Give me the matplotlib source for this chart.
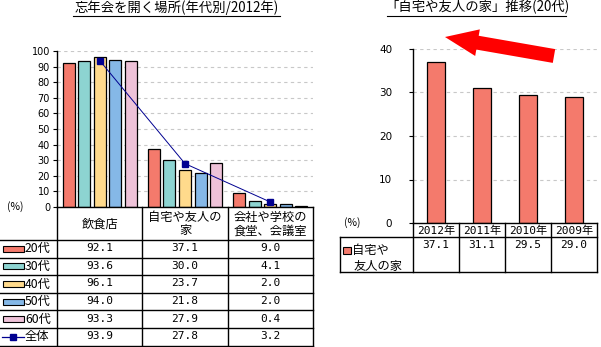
import matplotlib
matplotlib.use("Agg")
import matplotlib.pyplot as plt
from matplotlib.patches import Rectangle, FancyArrow
from matplotlib.lines import Line2D

plt.rcParams['font.family'] = ['Noto Sans CJK JP', 'DejaVu Sans']

# ---------------- data ----------------
places = ["飲食店", "自宅や友人の\n家", "会社や学校の\n食堂、会議室"]
ages = ["20代", "30代", "40代", "50代", "60代"]
age_values = [
    [92.1, 37.1, 9.0],
    [93.6, 30.0, 4.1],
    [96.1, 23.7, 2.0],
    [94.0, 21.8, 2.0],
    [93.3, 27.9, 0.4],
]
total_label = "全体"
total_values = [93.9, 27.8, 3.2]
age_colors = ["#F47A6C", "#8DD4D1", "#FFDA8C", "#85B8E7", "#EEC2D8"]

years = ["2012年", "2011年", "2010年", "2009年"]
home_values = [37.1, 31.1, 29.5, 29.0]
home_label = "自宅や\n友人の家"

left_title = "忘年会を開く場所(年代別/2012年)"
right_title = "「自宅や友人の家」推移(20代)"

W, H = 601, 347
fig = plt.figure(figsize=(W / 100, H / 100), dpi=100)


def px_axes(x0, y0, x1, y1, **kw):
    return fig.add_axes([x0 / W, 1 - y1 / H, (x1 - x0) / W, (y1 - y0) / H], **kw)


MONO = ['DejaVu Sans Mono', 'Noto Sans CJK JP']

# ---------------- left chart ----------------
LX0, LX1, LY0, LY1 = 57, 313, 51, 207
axL = px_axes(LX0, LY0, LX1, LY1)
n = len(ages)
step, bw = 0.182, 0.14
for i, (lab, vals, col) in enumerate(zip(ages, age_values, age_colors)):
    xs = [g + (i - (n - 1) / 2) * step for g in range(len(places))]
    axL.bar(xs, vals, width=bw, color=col, edgecolor="black", linewidth=0.9, zorder=3)
axL.plot(range(len(places)), total_values, color="#000090", linewidth=0.7,
         marker="s", markersize=4.5, markerfacecolor="#000090",
         markeredgecolor="#000090", zorder=4)
axL.set_xlim(-0.5, len(places) - 0.5)
axL.set_ylim(0, 100)
axL.set_yticks(range(0, 101, 10))
axL.yaxis.grid(True, linestyle=(0, (3, 3)), color="#C8C8C8", linewidth=0.8)
axL.set_axisbelow(True)
axL.set_xticks([])
for s in ["top", "right", "bottom"]:
    axL.spines[s].set_visible(False)
axL.spines["left"].set_linewidth(1.0)
axL.tick_params(axis="y", length=3, width=0.8, pad=2, labelsize=7)
for t in axL.get_yticklabels():
    t.set_family(['DejaVu Sans'])

# ---------------- right chart ----------------
RX0, RX1, RY0, RY1 = 413, 597, 49, 223
axR = px_axes(RX0, RY0, RX1, RY1)
axR.bar(range(len(years)), home_values, width=0.39, color=age_colors[0],
        edgecolor="black", linewidth=0.9, zorder=3)
axR.set_xlim(-0.5, len(years) - 0.5)
axR.set_ylim(0, 40)
axR.set_yticks(range(0, 41, 10))
axR.yaxis.grid(True, linestyle=(0, (3, 3)), color="#C8C8C8", linewidth=0.8)
axR.set_axisbelow(True)
axR.set_xticks([])
for s in ["top", "right", "bottom"]:
    axR.spines[s].set_visible(False)
axR.spines["left"].set_linewidth(1.0)
axR.tick_params(axis="y", length=3, width=0.8, pad=12, labelsize=7.5)
for t in axR.get_yticklabels():
    t.set_family(['DejaVu Sans'])

# ---------------- overlay (tables, titles, arrow) ----------------
ov = fig.add_axes([0, 0, 1, 1], zorder=10)
ov.set_xlim(0, W)
ov.set_ylim(H, 0)
ov.axis("off")
ov.patch.set_alpha(0)


def hline(y, x0, x1, lw=1.0):
    ov.add_line(Line2D([x0, x1], [y, y], color="black", linewidth=lw))


def vline(x, y0, y1, lw=1.0):
    ov.add_line(Line2D([x, x], [y0, y1], color="black", linewidth=lw))


# left table
colw = (LX1 - LX0) / len(places)
col_edges = [LX0 + k * colw for k in range(len(places) + 1)]
hdr_bot = 240
rowh = 17.6
nrows = len(ages) + 1
row_edges = [hdr_bot + k * rowh for k in range(nrows + 1)]
tbl_bot = row_edges[-1]
hline(LY1, LX0, LX1)
for y in row_edges:
    hline(y, 0, LX1)
for x in col_edges:
    vline(x, LY1, tbl_bot)

for k, p in enumerate(places):
    cx = (col_edges[k] + col_edges[k + 1]) / 2
    ov.text(cx, (LY1 + hdr_bot) / 2 + 0.5, p, ha="center", va="center",
            fontsize=8.8, linespacing=1.05)

ov.text(15, LY1, "(%)", ha="center", va="center", fontsize=7.5)

all_labels = ages + [total_label]
all_vals = age_values + [total_values]
for r, (lab, vals) in enumerate(zip(all_labels, all_vals)):
    cy = row_edges[r] + rowh / 2
    if r < len(ages):
        ov.add_patch(Rectangle((2.5, cy - 3), 21, 6, facecolor=age_colors[r],
                               edgecolor="black", linewidth=0.8))
    else:
        ov.add_line(Line2D([2, 24], [cy, cy], color="#000090", linewidth=0.9))
        ov.add_line(Line2D([13], [cy], color="#000090", marker="s",
                           markersize=4.5, linestyle="none"))
    ov.text(25, cy, lab, ha="left", va="center", fontsize=8.8)
    for k, v in enumerate(vals):
        cx = (col_edges[k] + col_edges[k + 1]) / 2
        ov.text(cx, cy - 0.5, f"{v:.1f}", ha="center", va="center", fontsize=8,
                family=MONO)

# right table
rcolw = (RX1 - RX0) / len(years)
rcol_edges = [RX0 + k * rcolw for k in range(len(years) + 1)]
r_hdr_bot = 237
r_bot = 272
leg_x = 340
hline(RY1, RX0, RX1)
hline(r_hdr_bot, leg_x, RX1)
hline(r_bot, leg_x, RX1)
vline(leg_x, r_hdr_bot, r_bot)
for x in rcol_edges:
    vline(x, RY1, r_bot)
for k, yr in enumerate(years):
    cx = (rcol_edges[k] + rcol_edges[k + 1]) / 2
    ov.text(cx, (RY1 + r_hdr_bot) / 2 + 0.5, yr, ha="center", va="center",
            fontsize=8, family=MONO)
    ov.text(cx, r_hdr_bot + 8, f"{home_values[k]:.1f}", ha="center",
            va="center", fontsize=8, family=MONO)
ov.text(352, RY1, "(%)", ha="center", va="center", fontsize=7.5)
ov.add_patch(Rectangle((343, 247), 8, 7, facecolor=age_colors[0],
                       edgecolor="black", linewidth=0.8))
l1, l2 = home_label.split("\n")
ov.text(352.5, 250.5, l1, ha="left", va="center", fontsize=8.8)
ov.text(354, 266, l2, ha="left", va="center", fontsize=8.8)

# titles with underline
for txt, cx, x0, x1 in [(left_title, 177, 73, 280), (right_title, 477, 387, 566)]:
    ov.text(cx, 7.2, txt, ha="center", va="center", fontsize=9.6)
    hline(16, x0, x1, lw=0.8)

# red arrow
tail = (554, 56)
tip = (445, 37)
ov.add_patch(FancyArrow(tail[0], tail[1], tip[0] - tail[0], tip[1] - tail[1],
                        width=14, head_width=27, head_length=33,
                        length_includes_head=True, color="#FF0000", linewidth=0))

fig.savefig("out.png", dpi=100)
